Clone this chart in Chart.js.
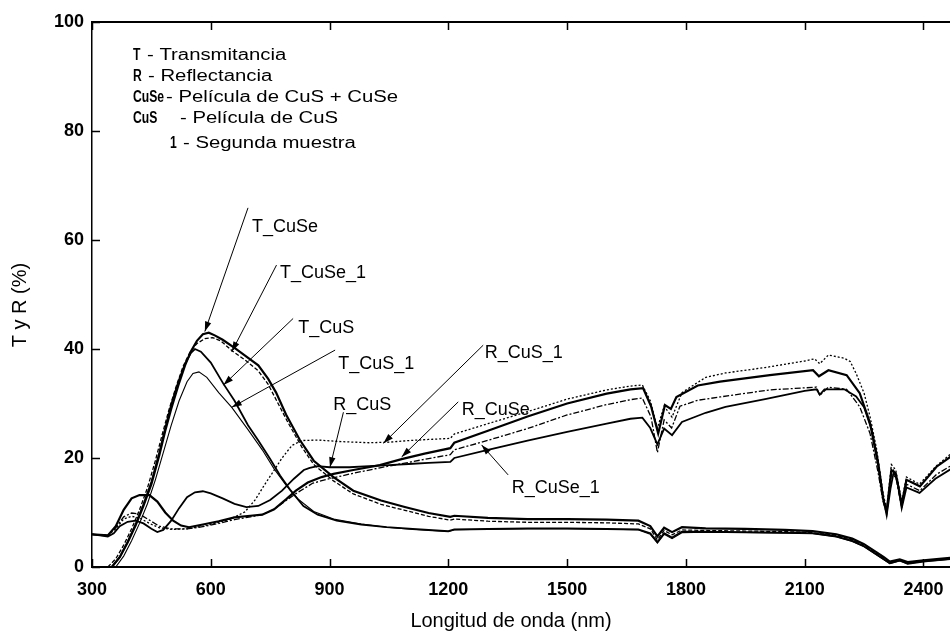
<!DOCTYPE html>
<html>
<head>
<meta charset="utf-8">
<script src="https://cdn.jsdelivr.net/npm/chart.js@4.4.1/dist/chart.umd.min.js"></script>
<style>html,body{margin:0;padding:0;background:#fff;overflow:hidden}</style>
</head>
<body>
<canvas id="c" width="950" height="634"></canvas>
<script>
// ---------- data: [wavelength nm, %] ----------
const xTickValues = [300, 600, 900, 1200, 1500, 1800, 2100, 2400];
const yTickValues = [0, 20, 40, 60, 80, 100];

const T_CuSe = [[350,0],[370,1.8],[390,4.5],[410,7.6],[430,11.2],[450,15.2],[470,20.5],[485,25],[500,29],[518,33.3],[535,37],[550,39.6],[565,41.5],[580,42.7],[595,43],[610,42.5],[630,41.7],[660,40.2],[690,38.6],[720,37],[745,34.5],[765,32],[790,28],[825,23.3],[860,19.5],[910,16.5],[960,14],[1030,12.2],[1090,11],[1150,9.9],[1205,9.2],[1215,9.4],[1300,9.0],[1400,8.8],[1500,8.8],[1600,8.7],[1680,8.5],[1710,7.5],[1728,5.6],[1745,7.2],[1765,6.4],[1790,7.3],[1850,7.1],[1950,7.0],[2050,6.8],[2120,6.6],[2180,6.0],[2220,5.2],[2250,4.2],[2275,3.0],[2300,1.8],[2315,1.0],[2340,1.4],[2360,0.9],[2400,1.2],[2440,1.5],[2470,1.7]];

const T_CuSe_1 = [[340,0],[360,1.5],[380,4],[400,7],[420,10.5],[440,14.5],[460,19.5],[478,24.5],[495,29],[512,33],[530,36.8],[548,39.5],[565,41],[585,41.9],[605,42.1],[625,41.5],[655,39.6],[690,37.8],[720,36],[745,33.5],[770,30],[795,26.5],[830,22],[860,18.8],[910,15.8],[960,13.4],[1030,11.5],[1090,10.4],[1150,9.3],[1205,8.6],[1215,8.8],[1300,8.4],[1400,8.2],[1500,8.2],[1600,8.1],[1680,7.9],[1710,7.0],[1728,5.0],[1745,6.7],[1765,5.9],[1790,6.8],[1850,6.7],[1950,6.6],[2050,6.5],[2120,6.3],[2180,5.8],[2220,5.0],[2250,4.0],[2275,2.8],[2300,1.6],[2315,0.9],[2340,1.3],[2360,0.8],[2400,1.1],[2440,1.4],[2470,1.6]];

const T_CuS = [[350,0],[370,1.8],[390,4.6],[410,7.8],[430,11.5],[450,15.6],[470,21],[485,25.5],[500,29.8],[518,34],[535,37.3],[550,39.3],[560,40],[575,39.5],[600,37.5],[632,33.6],[660,30.5],[694,26],[720,23.2],[750,19.8],[775,16.8],[800,14.2],[834,11.2],[870,9.6],[918,8.5],[980,7.8],[1044,7.3],[1110,7.0],[1200,6.6],[1215,6.9],[1300,7.0],[1400,7.1],[1500,7.1],[1600,7.0],[1680,6.9],[1710,6.2],[1728,4.6],[1745,6.2],[1765,5.4],[1790,6.5],[1850,6.5],[1950,6.4],[2050,6.3],[2120,6.2],[2180,5.6],[2220,4.8],[2250,3.8],[2275,2.6],[2300,1.4],[2315,0.7],[2340,1.2],[2360,0.6],[2400,1.0],[2440,1.3],[2470,1.5]];

const T_CuS_1 = [[360,0],[380,2],[400,4.8],[420,8],[440,11.6],[460,16],[480,21],[500,26],[520,30.5],[540,34],[555,35.5],[570,35.8],[590,34.8],[620,32],[653,29.3],[694,25.2],[730,21.5],[760,18],[790,15],[820,12.5],[860,10.2],[910,8.8],[980,7.9],[1044,7.3],[1110,6.9],[1200,6.5],[1215,6.8],[1300,6.9],[1400,7.0],[1500,7.0],[1600,6.9],[1680,6.8],[1710,6.0],[1728,4.4],[1745,6.0],[1765,5.2],[1790,6.3],[1850,6.4],[1950,6.3],[2050,6.2],[2120,6.1],[2180,5.5],[2220,4.7],[2250,3.7],[2275,2.5],[2300,1.3],[2315,0.6],[2340,1.1],[2360,0.6],[2400,1.0],[2440,1.2],[2470,1.4]];

const R_CuS = [[300,6.0],[320,5.8],[340,5.6],[355,6.2],[370,7.5],[390,8.3],[410,8.5],[430,8.0],[450,7.0],[465,6.4],[480,6.8],[500,8.5],[520,10.8],[540,12.8],[560,13.7],[580,13.9],[600,13.5],[630,12.6],[660,11.6],[690,11.0],[720,11.2],[750,12.3],[780,14.0],[810,16.2],[835,17.8],[850,18.2],[870,18.5],[900,18.3],[950,18.3],[1000,18.5],[1050,18.7],[1100,18.9],[1150,19.1],[1205,19.3],[1215,20.0],[1300,21.5],[1400,23.2],[1500,24.8],[1600,26.3],[1660,27.2],[1690,27.4],[1710,25.5],[1728,22.5],[1745,25.4],[1765,24.2],[1790,26.6],[1850,28.3],[1900,29.4],[2000,30.8],[2100,32.3],[2130,32.6],[2138,31.6],[2150,32.6],[2200,32.6],[2230,31.3],[2250,29.3],[2270,25],[2285,19.5],[2300,12],[2307,9.5],[2317,14.5],[2325,17.5],[2335,15.5],[2345,10.8],[2357,14.6],[2390,13.6],[2430,16.2],[2470,18.0]];

const R_CuS_1 = [[300,6.0],[340,5.8],[360,7],[380,8.8],[400,9.3],[420,9.0],[445,8.0],[470,7.2],[500,6.9],[540,7.0],[580,7.5],[620,8.2],[650,8.8],[686,10.1],[712,12.3],[735,15],[755,17.2],[780,20],[805,22.3],[830,23.2],[870,23.3],[930,23.0],[1000,22.8],[1050,22.9],[1100,23.2],[1150,23.4],[1205,23.6],[1215,24.4],[1300,26.3],[1400,28.5],[1500,30.8],[1600,32.5],[1660,33.2],[1690,33.4],[1710,30.5],[1728,25.5],[1745,29.5],[1765,27.5],[1790,32.0],[1850,34.8],[1900,35.6],[2000,36.6],[2100,37.8],[2125,38.2],[2138,37.3],[2160,38.9],[2200,38.3],[2215,37.7],[2230,35.5],[2250,31.9],[2265,27.6],[2282,21.5],[2298,13.5],[2307,10.5],[2319,18.8],[2330,17.8],[2345,12],[2357,16.5],[2390,15.2],[2433,18.6],[2470,20.8]];

const R_CuSe = [[300,6.0],[340,5.8],[360,7.5],[380,10.5],[400,12.6],[420,13.2],[445,13.2],[465,12],[485,10],[505,8.5],[525,7.6],[545,7.3],[580,7.8],[620,8.4],[660,9.1],[700,9.4],[730,9.6],[760,10.6],[790,12.4],[815,14],[845,15.5],[880,16.5],[910,17.1],[960,17.8],[1027,18.7],[1082,19.8],[1140,20.8],[1205,21.8],[1215,22.8],[1300,25.0],[1400,27.6],[1500,30.0],[1600,31.8],[1660,32.6],[1692,32.8],[1712,29.5],[1730,24.5],[1747,29.7],[1762,29.0],[1776,31.2],[1830,33.3],[1886,34.0],[2012,35.2],[2121,36.1],[2136,35.0],[2160,36.1],[2206,35.2],[2239,31.9],[2265,26.4],[2285,19],[2298,12.5],[2307,10.2],[2319,17.8],[2330,17.2],[2345,11.5],[2357,16],[2391,14.8],[2433,18.4],[2470,20.3]];

const R_CuSe_1 = [[300,6.0],[340,5.8],[360,7.2],[380,9.2],[400,9.9],[420,9.7],[445,8.6],[470,7.5],[500,7.0],[540,7.0],[580,7.4],[620,8.0],[660,8.7],[700,9.2],[730,9.6],[760,10.6],[790,12.2],[820,13.7],[858,15.4],[900,16.2],[960,17.2],[1027,18.2],[1100,19.2],[1150,19.9],[1205,20.6],[1215,21.5],[1284,22.9],[1400,25.4],[1500,27.9],[1600,29.8],[1660,30.7],[1690,31.0],[1712,27.5],[1728,21.0],[1745,27.0],[1764,25.5],[1785,29.5],[1830,30.6],[1886,31.2],[2012,32.5],[2130,33.0],[2138,31.5],[2160,33.0],[2206,32.6],[2239,29.4],[2265,24.5],[2285,17.5],[2298,12.0],[2307,9.8],[2319,17.0],[2330,16.5],[2345,11.0],[2357,15.2],[2391,14.0],[2433,17.0],[2470,18.6]];

// ---------- text ----------
const FONT = '"Liberation Sans", Arial, Helvetica, sans-serif';
const xTitle = 'Longitud de onda (nm)';
const yTitle = 'T y R (%)';

// callouts: label anchor, line start, arrow tip (data coordinates)
const callouts = [
  {text:'T_CuSe',   label:[704,61.5],  from:[694,65.9],  tip:[585,43.2]},
  {text:'T_CuSe_1', label:[775,53.0],  from:[766,55.4],  tip:[653,39.5]},
  {text:'T_CuS',    label:[821,42.9],  from:[808,45.6],  tip:[632,33.4]},
  {text:'T_CuS_1',  label:[922,36.4],  from:[914,39.8],  tip:[653,29.3]},
  {text:'R_CuS',    label:[909,28.8],  from:[935,28.4],  tip:[901,18.3]},
  {text:'R_CuS_1',  label:[1292,38.3], from:[1288,40.7], tip:[1036,22.7]},
  {text:'R_CuSe',   label:[1234,27.9], from:[1225,30.3], tip:[1082,20.2]},
  {text:'R_CuSe_1', label:[1360,13.6], from:[1351,16.9], tip:[1284,22.4]}
];

// legend rows: bold key, description
const legendRows = [
  {key:'T',    desc:'- Transmitancia',            kx:41, dx:55, dy:38},
  {key:'R',    desc:'- Reflectancia',             kx:41, dx:56, dy:58.7},
  {key:'CuSe', desc:'- Película de CuS + CuSe',   kx:41, dx:74, dy:79.7},
  {key:'CuS',  desc:'- Película de CuS',          kx:41, dx:88, dy:100.7},
  {key:'1',    desc:'- Segunda muestra',          kx:78, dx:91, dy:126.3}
];

const toXY = arr => arr.map(p => ({x:p[0], y:p[1]}));

const series = [
  {label:'T_CuSe',   data:T_CuSe,   width:2.2, dash:[]},
  {label:'T_CuSe_1', data:T_CuSe_1, width:1.3, dash:[4,2]},
  {label:'T_CuS',    data:T_CuS,    width:1.8, dash:[]},
  {label:'T_CuS_1',  data:T_CuS_1,  width:1.1, dash:[]},
  {label:'R_CuS',    data:R_CuS,    width:1.8, dash:[]},
  {label:'R_CuS_1',  data:R_CuS_1,  width:1.3, dash:[2,2]},
  {label:'R_CuSe',   data:R_CuSe,   width:2.2, dash:[]},
  {label:'R_CuSe_1', data:R_CuSe_1, width:1.3, dash:[6,2,2,2]}
];

function drawArrow(ctx, x1, y1, x2, y2) {
  ctx.beginPath(); ctx.moveTo(x1, y1); ctx.lineTo(x2, y2); ctx.stroke();
  const a = Math.atan2(y2 - y1, x2 - x1), L = 10, W = 3.2;
  const bx = x2 - L * Math.cos(a), by = y2 - L * Math.sin(a);
  ctx.beginPath();
  ctx.moveTo(x2, y2);
  ctx.lineTo(bx + W * Math.sin(a), by - W * Math.cos(a));
  ctx.lineTo(bx - W * Math.sin(a), by + W * Math.cos(a));
  ctx.closePath(); ctx.fill();
}

const overlay = {
  id: 'overlay',
  afterDraw(chart) {
    const {ctx, chartArea: a, scales: {x, y}} = chart;
    ctx.save();
    ctx.strokeStyle = '#000'; ctx.fillStyle = '#000';
    // top frame line
    ctx.lineWidth = 2;
    ctx.beginPath(); ctx.moveTo(a.left, a.top); ctx.lineTo(chart.width, a.top); ctx.stroke();
    // inward tick marks
    ctx.lineWidth = 1.5;
    ctx.beginPath();
    xTickValues.forEach(v => {
      const px = Math.round(x.getPixelForValue(v)) + 0.5;
      ctx.moveTo(px, a.bottom); ctx.lineTo(px, a.bottom - 8);
      ctx.moveTo(px, a.top); ctx.lineTo(px, a.top + 8);
    });
    yTickValues.forEach(v => {
      const py = Math.round(y.getPixelForValue(v)) + 0.5;
      ctx.moveTo(a.left, py); ctx.lineTo(a.left + 8, py);
    });
    ctx.stroke();

    // callouts
    ctx.lineWidth = 1;
    ctx.font = '18px ' + FONT;
    ctx.textAlign = 'left'; ctx.textBaseline = 'alphabetic';
    callouts.forEach(c => {
      drawArrow(ctx, x.getPixelForValue(c.from[0]), y.getPixelForValue(c.from[1]),
                     x.getPixelForValue(c.tip[0]), y.getPixelForValue(c.tip[1]));
      ctx.fillText(c.text, x.getPixelForValue(c.label[0]), y.getPixelForValue(c.label[1]));
    });

    // legend text block
    legendRows.forEach(r => {
      ctx.save();
      ctx.translate(a.left + r.kx, a.top + r.dy); ctx.scale(0.76, 1);
      ctx.font = 'bold 16px ' + FONT; ctx.fillText(r.key, 0, 0);
      ctx.restore();
      ctx.save();
      ctx.translate(a.left + r.dx, a.top + r.dy); ctx.scale(1.27, 1);
      ctx.font = '16px ' + FONT; ctx.fillText(r.desc, 0, 0);
      ctx.restore();
    });

    // axis titles
    ctx.font = '20px ' + FONT;
    ctx.textAlign = 'center';
    ctx.fillText(xTitle, a.left + 419, 627);
    ctx.save();
    ctx.translate(26, 305); ctx.rotate(-Math.PI / 2);
    ctx.fillText(yTitle, 0, 0);
    ctx.restore();
    ctx.restore();
  }
};

new Chart(document.getElementById('c'), {
  type: 'line',
  data: {
    datasets: series.map(s => ({
      label: s.label,
      data: toXY(s.data),
      borderColor: '#000',
      backgroundColor: '#000',
      borderWidth: s.width,
      borderDash: s.dash,
      pointRadius: 0,
      fill: false,
      tension: 0
    }))
  },
  options: {
    responsive: false,
    animation: false,
    devicePixelRatio: 1,
    layout: {padding: {top: 22, right: 0, left: 0, bottom: 0}},
    plugins: {legend: {display: false}, tooltip: {enabled: false}},
    scales: {
      x: {
        type: 'linear', min: 300, max: 2467,
        afterBuildTicks: s => { s.ticks = xTickValues.map(v => ({value: v})); },
        afterFit: s => { s.height = 67; s.paddingRight = 0; },
        grid: {display: false, drawTicks: false},
        border: {display: true, color: '#000', width: 2},
        ticks: {color: '#000', font: {family: FONT, size: 18, weight: 'bold'}, padding: 12, maxRotation: 0, autoSkip: false,
                callback: v => String(v)}
      },
      y: {
        type: 'linear', min: 0, max: 100,
        afterBuildTicks: s => { s.ticks = yTickValues.map(v => ({value: v})); },
        afterFit: s => { s.width = 92; },
        grid: {display: false, drawTicks: false},
        border: {display: true, color: '#000', width: 1.5},
        ticks: {color: '#000', font: {family: FONT, size: 18, weight: 'bold'}, padding: 8,
                callback: v => String(v)}
      }
    }
  },
  plugins: [overlay]
});
</script>
</body>
</html>
